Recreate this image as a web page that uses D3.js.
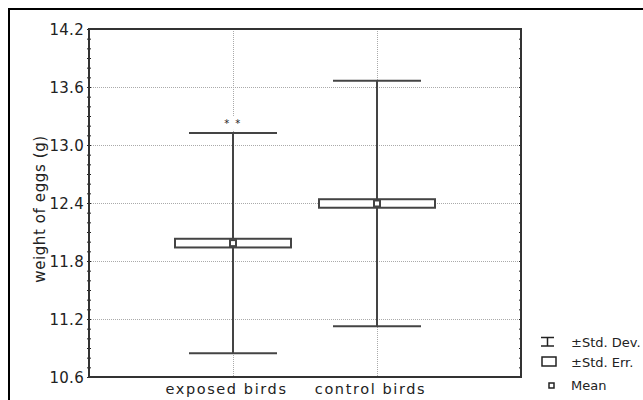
<!DOCTYPE html>
<html><head><meta charset="utf-8">
<script src="https://cdn.jsdelivr.net/npm/d3@7"></script>
<style>
html,body{margin:0;padding:0;background:#fff;}
text{font-family:"DejaVu Sans",Verdana,sans-serif;fill:#222;}
</style></head>
<body>
<svg id="chart" width="643" height="400"></svg>
<script>
const categories = ["exposed birds", "control birds"];
const means = [11.985, 12.395];
const stdDev = [1.14, 1.27];
const stdErr = [0.045, 0.044];
const yTicks = [10.6, 11.2, 11.8, 12.4, 13.0, 13.6, 14.2];
const yMinor = d3.range(106, 143).map(v => v / 10);
const annotations = ["* *", ""];
const legendItems = ["±Std. Dev.", "±Std. Err.", "Mean"];
const yTitle = "weight of eggs (g)";

const svg = d3.select("#chart");
const L = 89, R = 521, T = 29, B = 377;
const y = d3.scaleLinear().domain([10.6, 14.2]).range([B, T]);
const x = d3.scalePoint().domain(categories).range([L, R]).padding(1);
const ink = "#444";

// outer frame (only top/left visible)
svg.append("line").attr("x1", 9).attr("x2", 9).attr("y1", 8).attr("y2", 400).attr("stroke", "#000").attr("stroke-width", 2);
svg.append("line").attr("x1", 8).attr("x2", 643).attr("y1", 9).attr("y2", 9).attr("stroke", "#000").attr("stroke-width", 2);

// grid
const g = svg.append("g");
g.selectAll(".hg").data(yTicks.slice(1, -1)).join("line")
  .attr("x1", L).attr("x2", R).attr("y1", d => y(d) + 0.5).attr("y2", d => y(d) + 0.5)
  .attr("stroke", "#aaa").attr("stroke-width", 1).attr("stroke-dasharray", "1,1");
g.selectAll(".vg").data(categories).join("line")
  .attr("x1", d => x(d) + 0.5).attr("x2", d => x(d) + 0.5).attr("y1", T).attr("y2", B)
  .attr("stroke", "#aaa").attr("stroke-width", 1).attr("stroke-dasharray", "1,1");

// axes
const axL = d3.axisLeft(y).tickValues(yTicks).tickFormat(d3.format(".1f")).tickSize(2).tickPadding(3);
const axLm = d3.axisLeft(y).tickValues(yMinor).tickFormat("").tickSizeInner(-2).tickSizeOuter(0);
const axLm2 = d3.axisLeft(y).tickValues(yMinor).tickFormat("").tickSizeInner(2).tickSizeOuter(0);
const gl = svg.append("g").attr("transform", `translate(${L},0)`).call(axL);
gl.select(".domain").remove();
gl.selectAll("line").attr("stroke", "#222");
gl.selectAll("text").attr("font-size", 15).attr("letter-spacing", 0.3).attr("fill", "#222").attr("dy", "0.36em");
[axLm, axLm2].forEach(a => {
  const gg = svg.append("g").attr("transform", `translate(${L},0)`).call(a);
  gg.select(".domain").remove(); gg.selectAll("line").attr("stroke", "#222");
});
const axRm = d3.axisRight(y).tickValues(yMinor).tickFormat("").tickSizeInner(-2).tickSizeOuter(0);
const gr = svg.append("g").attr("transform", `translate(${R},0)`).call(axRm);
gr.select(".domain").remove(); gr.selectAll("line").attr("stroke", "#222");

const axB = d3.axisBottom(x).tickSize(0).tickPadding(8);
const gb = svg.append("g").attr("transform", `translate(-7,${B})`).call(axB);
gb.select(".domain").remove();
gb.selectAll("text").attr("font-size", 14.5).attr("letter-spacing", 1.6).attr("fill", "#222").attr("dy", "9px");

// plot frame
svg.append("rect").attr("x", L).attr("y", T).attr("width", R - L).attr("height", B - T)
  .attr("fill", "none").attr("stroke", "#333").attr("stroke-width", 2);

// y title
svg.append("text").attr("transform", `translate(45,${(T + B) / 2 + 6}) rotate(-90)`)
  .attr("text-anchor", "middle").attr("font-size", 15).attr("letter-spacing", 0.6).text(yTitle);

// marks
const data = categories.map((c, i) => ({ c, m: means[i], sd: stdDev[i], se: stdErr[i], a: annotations[i] }));
const mk = svg.append("g");
data.forEach(d => {
  const cx = x(d.c);
  mk.append("line").attr("x1", cx).attr("x2", cx).attr("y1", y(d.m - d.sd)).attr("y2", y(d.m + d.sd)).attr("stroke", ink).attr("stroke-width", 2);
  [d.m - d.sd, d.m + d.sd].forEach(v => mk.append("line").attr("x1", cx - 44).attr("x2", cx + 44).attr("y1", y(v)).attr("y2", y(v)).attr("stroke", ink).attr("stroke-width", 2));
  mk.append("rect").attr("x", cx - 58).attr("width", 116).attr("y", y(d.m + d.se)).attr("height", y(d.m - d.se) - y(d.m + d.se))
    .attr("fill", "#fff").attr("stroke", ink).attr("stroke-width", 2);
  mk.append("rect").attr("x", cx - 3).attr("y", y(d.m) - 3).attr("width", 6).attr("height", 6)
    .attr("fill", "#fff").attr("stroke", ink).attr("stroke-width", 2);
  if (d.a) {
    const ty = y(d.m + d.sd) - 10;
    mk.append("rect").attr("x", cx - 9).attr("y", ty - 7).attr("width", 18).attr("height", 14).attr("fill", "#fff");
    mk.append("text").attr("x", cx).attr("y", ty + 4).attr("text-anchor", "middle").attr("font-size", 10).attr("letter-spacing", 1.5).attr("fill", "#444").text(d.a);
  }
});

// legend
const lg = svg.append("g");
const rows = [341.5, 361.5, 385];
lg.selectAll("text").data(legendItems).join("text")
  .attr("x", 571).attr("y", (d, i) => rows[i] + 5).attr("font-size", 13).text(d => d);
// std dev icon
lg.append("line").attr("x1", 541).attr("x2", 554).attr("y1", 337.5).attr("y2", 337.5).attr("stroke", "#222").attr("stroke-width", 1.5);
lg.append("line").attr("x1", 541).attr("x2", 554).attr("y1", 346).attr("y2", 346).attr("stroke", "#222").attr("stroke-width", 1.5);
lg.append("line").attr("x1", 547.5).attr("x2", 547.5).attr("y1", 337.5).attr("y2", 346).attr("stroke", "#222").attr("stroke-width", 1.5);
lg.append("rect").attr("x", 542).attr("y", 357).attr("width", 14).attr("height", 9).attr("fill", "#fff").attr("stroke", "#222").attr("stroke-width", 1.5);
lg.append("rect").attr("x", 549).attr("y", 383).attr("width", 5).attr("height", 5).attr("fill", "#fff").attr("stroke", "#222").attr("stroke-width", 1.5);
</script>
</body></html>
